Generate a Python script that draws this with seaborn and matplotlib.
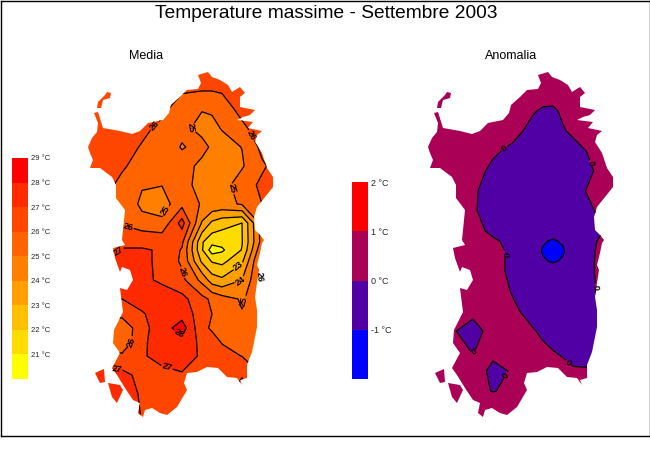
import numpy as np
import seaborn as sns
import matplotlib
matplotlib.use("Agg")
import matplotlib.pyplot as plt
from matplotlib.colors import ListedColormap
from matplotlib.patches import PathPatch
from matplotlib.path import Path

# map outline of the island (left map pixels)
main_x = [88,92,97,98,94,98,103,120,132,140,148,163,169,171,180,187,198,201,198,208,212,220,228,232,240,245,240,240,255,250,243,237,253,248,262,257,255,262,267,273,273,265,257,254,255,260,264,
          262,260,257,259,257,255,257,257,255,252,247,247,240,242,237,227,218,207,197,187,184,187,177,167,160,152,145,143,138,140,133,125,117,112,120,113,114,123,120,127,133,130,122,120,115,113,125,122,
          123,125,116,116,112,100,90,93,90]
main_y = [147,138,132,123,113,112,128,131,134,131,123,120,113,105,97,90,89,83,75,72,77,80,85,92,87,93,97,107,110,115,117,120,122,128,131,135,142,153,168,177,187,197,207,217,230,235,240,
          243,253,265,270,283,297,310,327,337,352,365,378,380,385,378,377,368,367,372,373,383,390,407,415,413,408,410,417,413,403,400,388,375,368,353,343,330,312,288,290,280,270,267,272,258,248,245,240,
          230,210,198,185,177,168,168,160,153]
asinara_x = [97,98,105,107,111,110,103,101]
asinara_y = [108,102,95,92,93,98,100,108]
antioco_x = [95,104,105,100]
antioco_y = [373,369,382,383]
pietro_x = [108,120,123,117,112]
pietro_y = [383,385,390,403,397]

# Media: temperature read on a rough grid
media_x = [82,102,122,142,162,182,202,212,222,242,262,282]
media_y = [71,90,109,128,147,166,185,204,223,242,250,261,280,299,314,328,342,356,375,394,413,432]
media_t = [
    [26.5,26.5,26.5,26.5,26.5,26.5,26.5,26.5,26.5,26.5,26.5,26.5],
    [26.6,26.6,26.6,26.6,26.5,26.15,26.05,26.05,26.1,26.5,26.6,26.6],
    [26.6,26.6,26.6,26.8,26.3,25.36,25.05,25.1,25.55,26.3,26.8,27],
    [26.8,26.7,26.6,26.3,25.7,25.25,24.7,24.8,25.05,25.8,26.5,27],
    [26.8,26.7,26.5,25.9,25.55,24.93,25.3,24.85,24.7,25.02,26.25,27],
    [26.8,26.8,26.1,25.7,25.4,25.4,24.75,24.5,24.4,24.9,25.85,26.5],
    [26.5,26.3,25.8,25.1,25.03,25.3,24.7,24.6,24.6,25.5,26.2,26.8],
    [26,25.8,25.9,24.75,24.5,25.7,24.9,24.8,24.7,25.1,26,26.6],
    [25.8,25.8,25.9,25.4,25.25,27.4,23.9,22.8,22.4,22.0,25.5,26.5],
    [26.3,26.3,26.85,26.85,26.7,26.2,22.1,21.3,21.3,21.95,25.4,26],
    [26.6,26.6,27.05,27.05,26.95,25.9,22.1,20.5,20.85,22.05,25.9,26.2],
    [27,27,27.3,27.3,26.7,25.85,22.8,21.9,21.7,22.8,26.5,26.5],
    [27.3,27.3,27.4,27.2,26.85,26.25,24.7,23.5,23.2,24,26.3,26.5],
    [27,27,27,27.4,27.5,27.3,26.3,25.8,25.4,24.9,25.6,26],
    [26.3,26.3,26.3,26.9,27.5,27.6,26.5,26,25.6,25.05,25.6,25.6],
    [25.5,25.5,25.2,26.7,27.5,28.5,26.2,25.9,25.6,25.4,25.4,25.4],
    [25.6,25.6,25.2,26.85,27.4,27.6,26.78,26.3,25.95,25.5,25.5,25.5],
    [26.3,26.3,26.2,26.9,27.3,27.5,26.85,26.6,26.3,25.98,25.7,25.7],
    [27.5,27.5,27.3,26.7,26.73,26.9,26.6,26.5,26.4,26.9,26,26],
    [27.6,27.6,27.4,26.9,26.6,26.5,26.4,26.4,26.4,27.6,26.3,26.3],
    [27.5,27.5,27.3,26.97,26.6,26.5,26.5,26.5,26.5,26.5,26.5,26.5],
    [27.3,27.3,27.3,26.9,26.5,26.5,26.5,26.5,26.5,26.5,26.5,26.5],
]
media_levels = [20,21,22,23,24,25,26,27,28,29]
media_colors = ["#ffff00","#ffdc00","#ffc000","#ffa000","#ff8000","#ff6400","#ff4600","#ff2a00","#ff0000"]
media_labels = [(154,125),(188,128),(252,135),(228,190),(163,209),(127,230),(120,253),(183,272),
                (237,264),(240,280),(243,301),(256,277),(132,342),(117,367),(167,367),(176,337)]

# Anomalia: same idea, finer around the cold spot
anom_x = [73,93,113,133,153,173,193,203,213,223,233,253,273]
anom_y = [71,91,111,131,151,171,191,211,231,241,251,261,271,291,311,331,351,371,391,411,431]
anom_t = [
    [.4,.4,.4,.4,.4,.4,.4,.4,.4,.4,.4,.4,.4],
    [.4,.4,.4,.4,.4,.4,.3,.3,.3,.3,.3,.4,.4],
    [.4,.4,.4,.4,.4,.3,.05,-.08,-.1,.1,.2,.4,.4],
    [.4,.4,.4,.4,.4,.2,-.2,-.3,-.3,-.05,.1,.3,.4],
    [.4,.4,.4,.3,.1,-.15,-.3,-.4,-.4,-.3,-.2,.1,.4],
    [.4,.4,.4,.25,-.15,-.3,-.4,-.4,-.4,-.4,-.4,-.01,.3],
    [.4,.4,.3,.1,-.3,-.4,-.4,-.5,-.5,-.4,-.25,.15,.4],
    [.4,.4,.3,.08,-.3,-.4,-.5,-.5,-.5,-.5,-.4,-.03,.3],
    [.4,.4,.4,.24,-.15,-.4,-.5,-.55,-.6,-.55,-.5,-.2,.2],
    [.4,.4,.4,.4,.1,-.2,-.5,-.9,-1.1,-.9,-.5,-.1,.4],
    [.4,.4,.4,.4,.24,-.16,-.5,-1.1,-1.6,-1.1,-.5,-.05,.4],
    [.4,.4,.4,.4,.24,-.16,-.5,-.9,-1.1,-.9,-.5,-.03,.4],
    [.4,.4,.4,.4,.24,-.16,-.5,-.55,-.6,-.55,-.5,-.03,.4],
    [.4,.4,.4,.4,.3,-.05,-.3,-.4,-.4,-.4,-.3,-.03,.2],
    [.4,.4,.3,.2,.3,.1,-.2,-.3,-.4,-.4,-.3,-.1,.2],
    [.4,.3,.06,-.3,.3,.3,.04,-.1,-.2,-.3,-.3,-.3,.3],
    [.4,.4,.2,-.03,.3,.4,.2,.1,.01,-.1,-.2,-.1,.3],
    [.4,.4,.4,.6,-.3,.1,.4,.3,.3,.2,.06,.02,.3],
    [.4,.4,.4,.15,-.02,.1,.4,.4,.4,.4,.4,.4,.4],
    [.4,.4,.4,.4,.4,.4,.4,.4,.4,.4,.4,.4,.4],
    [.4,.4,.4,.4,.4,.4,.4,.4,.4,.4,.4,.4,.4],
]
anom_levels = [-2,-1,0,1,2]
anom_colors = ["#0000ff","#5000a5","#aa0055","#ff0000"]
anom_labels = [(163,147),(252,163),(165,254),(255,287),(133,350),(167,376),(228,363)]

W, H = 650, 450


def px_rect(x0, y0, x1, y1):
    return [x0 / W, 1 - y1 / H, (x1 - x0) / W, (y1 - y0) / H]


def draw_map(fig, left, xs, ys, values, levels, colors, label_pos):
    ax = fig.add_axes(px_rect(left, 60, left + 210, 435))
    ax.set_xlim(80, 290)
    ax.set_ylim(435, 60)
    ax.axis("off")

    # island shape used as clip for the filled contours
    verts, codes = [], []
    for px, py in [(main_x, main_y), (asinara_x, asinara_y), (antioco_x, antioco_y), (pietro_x, pietro_y)]:
        verts += list(zip(px, py)) + [(px[0], py[0])]
        codes += [Path.MOVETO] + [Path.LINETO] * (len(px) - 1) + [Path.CLOSEPOLY]
    island = PathPatch(Path(verts, codes), transform=ax.transData, facecolor="none", edgecolor="none")
    ax.add_patch(island)

    filled = ax.contourf(xs, ys, np.array(values), levels=levels, colors=colors, antialiased=False)
    filled.set_clip_path(island)
    lines = ax.contour(xs, ys, np.array(values), levels=levels[1:-1], colors="black",
                       linewidths=0.9, linestyles="solid")
    lines.set_clip_path(island)
    labels = ax.clabel(lines, fmt="%d", fontsize=6.5, colors="black", manual=label_pos, inline=True, inline_spacing=1)
    for t in labels:
        t.set_fontweight("bold")
    return ax


def draw_bar(fig, rect, tops, colors, size):
    ax = fig.add_axes(px_rect(*rect))
    cells = np.array(tops).reshape(-1, 1)
    sns.heatmap(cells, ax=ax, cmap=ListedColormap(colors), cbar=False, xticklabels=False, yticklabels=False)
    ax.yaxis.tick_right()
    ax.set_yticks(range(len(tops)))
    ax.set_yticklabels([f"{t} °C" for t in tops], rotation=0, fontsize=size)
    ax.tick_params(axis="y", length=0, pad=2)
    return ax


sns.set_style("white")
plt.rcParams["font.family"] = ["Liberation Sans", "DejaVu Sans"]

fig = plt.figure(figsize=(W / 100, H / 100), dpi=100, facecolor="white")

# outer frame
frame = fig.add_axes(px_rect(0.5, 0.5, 649.5, 436))
frame.set_xticks([])
frame.set_yticks([])
for s in frame.spines.values():
    s.set_color("black")
    s.set_linewidth(1)

fig.text(326 / W, 1 - 13 / H, "Temperature massime - Settembre 2003", ha="center", va="center", fontsize=13.8, color="black")
fig.text(146 / W, 1 - 56 / H, "Media", ha="center", va="center", fontsize=9, color="black")
fig.text(511 / W, 1 - 56 / H, "Anomalia", ha="center", va="center", fontsize=9, color="black")

draw_map(fig, 80, media_x, media_y, media_t, media_levels, media_colors, media_labels)
draw_map(fig, 420, anom_x, anom_y, anom_t, anom_levels, anom_colors, anom_labels)

draw_bar(fig, (12, 158, 28, 379), media_levels[:0:-1], media_colors, 5.5)
draw_bar(fig, (352, 182, 368, 379), anom_levels[:0:-1], anom_colors, 6.5)

fig.savefig("out.png", dpi=100)
